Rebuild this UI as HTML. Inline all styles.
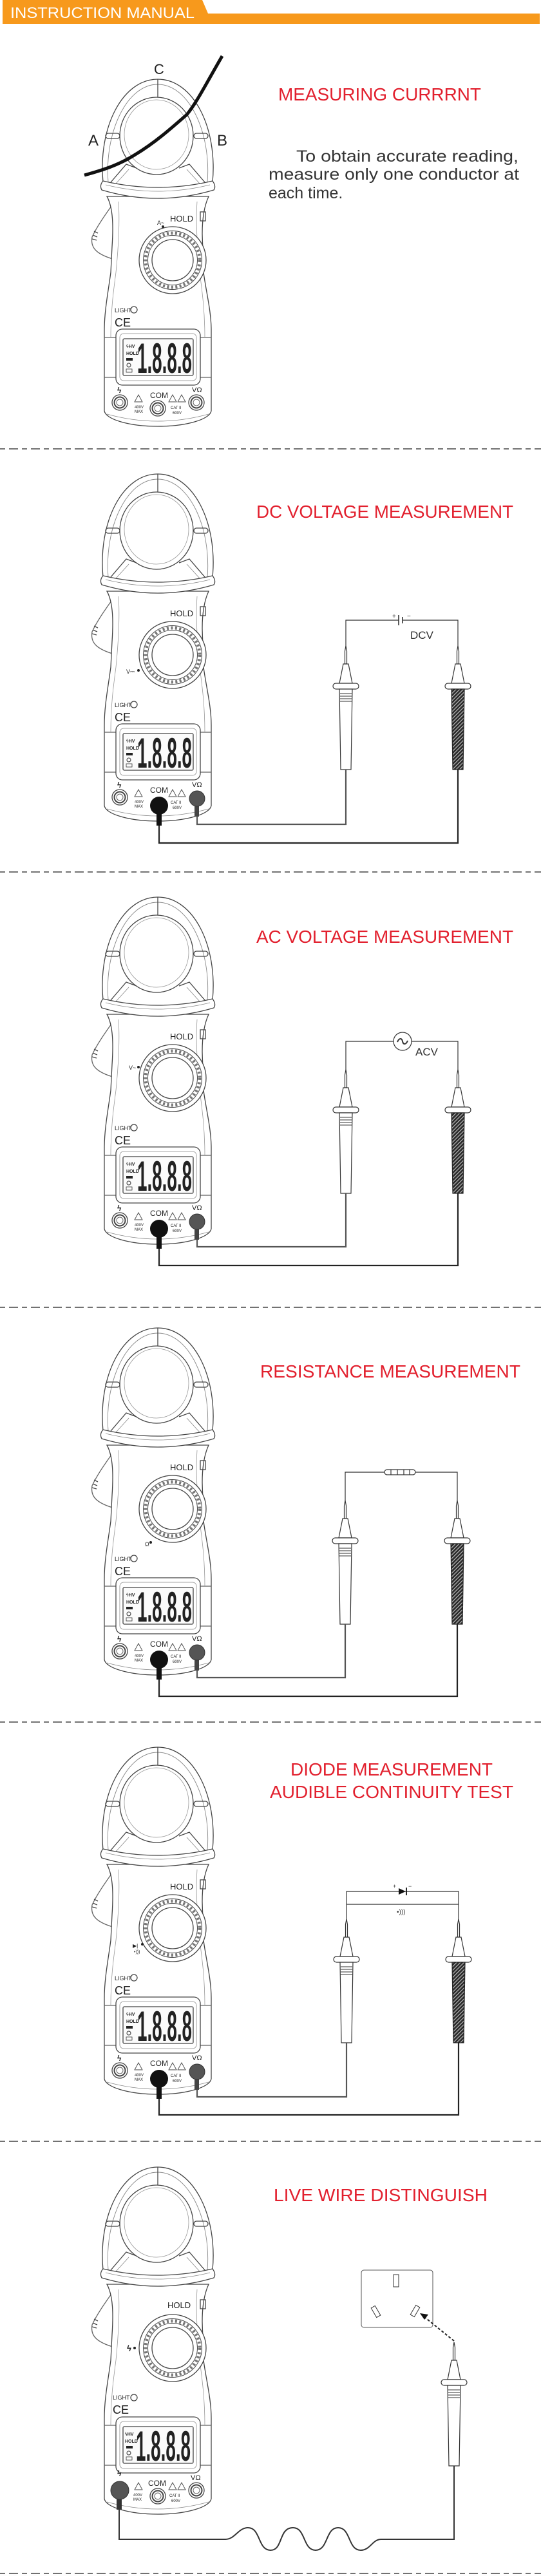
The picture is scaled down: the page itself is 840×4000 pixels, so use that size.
<!DOCTYPE html>
<html><head><meta charset="utf-8"><style>
html,body{margin:0;padding:0;background:#fff}
svg{display:block}
.t{font-family:"Liberation Sans",sans-serif}
.red{fill:#e2202e;font-family:"Liberation Sans",sans-serif}
</style></head><body>
<svg width="840" height="4000" viewBox="0 0 840 4000" xmlns="http://www.w3.org/2000/svg">
<defs>
<pattern id="hatch" width="4" height="4" patternUnits="userSpaceOnUse" patternTransform="rotate(-45)">
<rect width="4" height="4" fill="#2a2a2a"/><rect width="4" height="1.2" fill="#bbb"/>
</pattern>
<symbol id="meter" overflow="visible">
<g fill="none" stroke="#444" stroke-width="1.3">
<path d="M178,190 C160,215 150,230 143,245 C140,262 150,272 178,280" stroke="#666"/>
<path d="M146,236 l6,3 M144,242 l7,3 M143,248 l7,2" stroke="#444"/>
<path d="M160,160 C152,75 190,0 245,0 C300,0 338,75 330,160" fill="#fff"/>
<path d="M168,160 C162,82 197,8 245,8 C293,8 328,82 322,160" stroke="#888" stroke-width="0.9"/>
<ellipse cx="243" cy="88" rx="57" ry="60" fill="#fff"/>
<ellipse cx="243" cy="86" rx="50" ry="54" stroke="#999" stroke-width="0.8"/>
<path d="M245,0 L245,28"/>
<rect x="164" y="84" width="22" height="8" rx="4"/>
<rect x="301" y="84" width="22" height="8" rx="4"/>
<path d="M172,160 L196,132 L212,138 M318,160 L294,132 L278,138"/>
<path d="M180,162 L200,140 M310,162 L290,140" stroke="#888" stroke-width="0.8"/>
<path d="M166,182 C176,200 176,230 174,260 L172,300 C168,330 162,360 162,390 L162,515 C164,528 200,539 245,539 C290,539 326,528 328,515 L328,390 C328,360 320,330 316,300 L314,240 C314,215 318,195 324,182 Z" fill="#fff"/>
<path d="M184,190 C186,220 184,260 180,300 C176,330 172,360 172,400 M306,190 C304,220 306,260 310,300 C314,330 318,360 318,400" stroke="#999" stroke-width="0.8"/>
<path d="M160,158 Q245,178 330,158 Q336,166 332,172 Q245,198 158,172 Q154,165 160,158 Z" fill="#fff"/>
<path d="M164,164 Q245,184 326,164" stroke="#888" stroke-width="0.8"/>
<rect x="311" y="206" width="8" height="14"/>
<circle cx="268" cy="281" r="52" fill="#fff"/>
<circle cx="268" cy="281" r="45.5" stroke-width="1"/>
<circle cx="268" cy="281" r="42" stroke="#777" stroke-width="5" stroke-dasharray="3 3.5"/>
<circle cx="268" cy="281" r="38.5" stroke-width="1"/>
<circle cx="268" cy="281" r="32"/>
<circle cx="208" cy="358" r="5"/>
<rect x="162" y="401" width="166" height="62" stroke="#666"/>
<rect x="180" y="388" width="131" height="87" rx="10" fill="#fff"/>
<rect x="186" y="395" width="119" height="73" rx="6" stroke="#888" stroke-width="0.8"/>
<rect x="191" y="403" width="109" height="57" rx="2" fill="#fbfbfb"/>
<path d="M166,520 Q245,542 324,520" stroke="#888" stroke-width="0.8"/>
<path d="M215,490 L221,501 L209,501 Z M268,490 L274,501 L262,501 Z M282,490 L288,501 L276,501 Z" stroke-width="0.9"/>
</g>
<rect x="196" y="433" width="10" height="4" fill="#222"/>
<circle cx="200" cy="444" r="3" fill="none" stroke="#333" stroke-width="1"/>
<rect x="196" y="450" width="9" height="5" fill="none" stroke="#333" stroke-width="0.8"/>
</symbol>
<symbol id="jack" overflow="visible">
<circle r="12" fill="#fff" stroke="#444" stroke-width="1.3"/>
<circle r="8.5" fill="none" stroke="#444" stroke-width="2"/>
<circle r="5" fill="#fff" stroke="#666" stroke-width="1"/>
</symbol>
<symbol id="probe" overflow="visible">
<g stroke="#333" stroke-width="1.2">
<path d="M0,-58 L-1.5,-50 L-1.5,-30 L1.5,-30 L1.5,-50 Z" fill="#fff"/>
<path d="M-4,-30 L4,-30 L10,0 L-10,0 Z" fill="#fff"/>
<rect x="-20" y="0" width="40" height="9" rx="4.5" fill="#fff"/>
</g>
</symbol>
<symbol id="bodyL" overflow="visible">
<path d="M-10,9 L10,9 L8,134 L-8,134 Z" fill="#fff" stroke="#333" stroke-width="1.2"/>
<path d="M-9,16 H9 M-9,20 H9 M-9,24 H9 M-9,28 H9" stroke="#333" stroke-width="1"/>
</symbol>
<symbol id="bodyR" overflow="visible">
<path d="M-10,9 L10,9 L8,134 L-8,134 Z" fill="url(#hatch)" stroke="#222" stroke-width="1.2"/>
</symbol>
</defs>

<path d="M4,0 H314 L323,21 H838 V37 H4 Z" fill="#f7991c"/>
<text x="16" y="28" class="t" font-size="24" fill="#fff" textLength="286" lengthAdjust="spacingAndGlyphs">INSTRUCTION MANUAL</text>

<g stroke="#444" stroke-width="1.4" stroke-dasharray="8 6 14 6">
<line x1="0" y1="697" x2="840" y2="697"/>
<line x1="0" y1="1354" x2="840" y2="1354"/>
<line x1="0" y1="2030" x2="840" y2="2030"/>
<line x1="0" y1="2674" x2="840" y2="2674"/>
<line x1="0" y1="3325" x2="840" y2="3325"/>
<line x1="0" y1="3996" x2="840" y2="3996"/>
</g>

<!-- S1 -->
<use href="#meter" x="0" y="123"/>
<g transform="translate(0,123)">
<use href="#jack" x="186" y="502"/><use href="#jack" x="245" y="511"/><use href="#jack" x="305" y="502"/>
</g>
<path d="M131,272 C160,264 185,256 210,240 C240,222 265,200 290,178 C305,160 320,130 345,87" fill="none" stroke="#111" stroke-width="5"/>
<text x="137" y="226" class="t" font-size="24" fill="#222">A</text>
<text x="337" y="226" class="t" font-size="24" fill="#222">B</text>
<text x="239" y="115" class="t" font-size="22" fill="#222">C</text>
<text x="432" y="156" class="red" font-size="28" textLength="315" lengthAdjust="spacingAndGlyphs">MEASURING CURRRNT</text>
<g class="t" fill="#333" font-size="25">
<text x="460" y="251" textLength="345" lengthAdjust="spacingAndGlyphs">To obtain accurate reading,</text>
<text x="417" y="279" textLength="389" lengthAdjust="spacingAndGlyphs">measure only one conductor at</text>
<text x="417" y="308">each time.</text>
</g>

<!-- S2 -->
<use href="#meter" x="0" y="736"/>
<g transform="translate(0,736)"><use href="#jack" x="186" y="502"/></g>
<text x="398" y="804" class="red" font-size="28" textLength="399" lengthAdjust="spacingAndGlyphs">DC VOLTAGE MEASUREMENT</text>
<g fill="none" stroke="#333" stroke-width="1.2">
<path d="M537,1004 V963 H619 M625,963 H711 V1004"/>
<path d="M619,955 V971 M625,958 V968" stroke-width="1.6"/>
</g>
<text x="609" y="960" class="t" font-size="10" fill="#333">+</text>
<text x="632" y="960" class="t" font-size="10" fill="#333">−</text>
<text x="637" y="992" class="t" font-size="17" fill="#333">DCV</text>
<use href="#probe" x="537" y="1061"/><use href="#bodyL" x="537" y="1061"/>
<use href="#probe" x="711" y="1061"/><use href="#bodyR" x="711" y="1061"/>
<g fill="none" stroke-width="2.2">
<path d="M537,1195 V1280 H306 V1250" stroke="#555"/>
<path d="M711,1195 V1309 H247 V1260" stroke="#222"/>
</g>
<rect x="302" y="1240" width="7" height="28" fill="#444"/><circle cx="306" cy="1240" r="12" fill="#555" stroke="#333"/>
<rect x="243" y="1251" width="8" height="31" fill="#111"/><circle cx="247" cy="1251" r="14" fill="#111"/>

<!-- S3 -->
<use href="#meter" x="0" y="1393"/>
<g transform="translate(0,1393)"><use href="#jack" x="186" y="502"/></g>
<text x="398" y="1464" class="red" font-size="28" textLength="399" lengthAdjust="spacingAndGlyphs">AC VOLTAGE MEASUREMENT</text>
<g fill="none" stroke="#333" stroke-width="1.2">
<path d="M537,1662 V1617 H611 M639,1617 H711 V1662"/>
<circle cx="625" cy="1617" r="14"/>
<path d="M617,1618 C620,1611 624,1612 625,1617 C626,1622 630,1623 633,1616" stroke-width="2"/>
</g>
<text x="645" y="1639" class="t" font-size="17" fill="#333">ACV</text>
<use href="#probe" x="537" y="1719"/><use href="#bodyL" x="537" y="1719"/>
<use href="#probe" x="711" y="1719"/><use href="#bodyR" x="711" y="1719"/>
<g fill="none" stroke-width="2.2">
<path d="M537,1853 V1936 H306 V1906" stroke="#555"/>
<path d="M711,1853 V1965 H247 V1916" stroke="#222"/>
</g>
<rect x="302" y="1897" width="7" height="28" fill="#444"/><circle cx="306" cy="1897" r="12" fill="#555" stroke="#333"/>
<rect x="243" y="1908" width="8" height="31" fill="#111"/><circle cx="247" cy="1908" r="14" fill="#111"/>

<!-- S4 -->
<use href="#meter" x="0" y="2062"/>
<g transform="translate(0,2062)"><use href="#jack" x="186" y="502"/></g>
<text x="404" y="2139" class="red" font-size="28" textLength="404" lengthAdjust="spacingAndGlyphs">RESISTANCE MEASUREMENT</text>
<g fill="none" stroke="#333" stroke-width="1.2">
<path d="M536,2331 V2286 H597 M645,2286 H710 V2331"/>
<rect x="597" y="2282" width="48" height="8" rx="4" fill="#fff"/>
<path d="M607,2282 V2290 M617,2282 V2290 M627,2282 V2290 M636,2282 V2290"/>
</g>
<use href="#probe" x="536" y="2388"/><use href="#bodyL" x="536" y="2388"/>
<use href="#probe" x="710" y="2388"/><use href="#bodyR" x="710" y="2388"/>
<g fill="none" stroke-width="2.2">
<path d="M536,2522 V2605 H306 V2575" stroke="#555"/>
<path d="M710,2522 V2634 H247 V2585" stroke="#222"/>
</g>
<rect x="302" y="2566" width="7" height="28" fill="#444"/><circle cx="306" cy="2566" r="12" fill="#555" stroke="#333"/>
<rect x="243" y="2577" width="8" height="31" fill="#111"/><circle cx="247" cy="2577" r="14" fill="#111"/>

<!-- S5 -->
<use href="#meter" x="0" y="2713"/>
<g transform="translate(0,2713)"><use href="#jack" x="186" y="502"/></g>
<text x="451" y="2757" class="red" font-size="28" textLength="314" lengthAdjust="spacingAndGlyphs">DIODE MEASUREMENT</text>
<text x="419" y="2792" class="red" font-size="28" textLength="378" lengthAdjust="spacingAndGlyphs">AUDIBLE CONTINUITY TEST</text>
<g fill="none" stroke="#333" stroke-width="1.2">
<path d="M538,2981 V2937 H712 V2981 M538,2957 H712"/>
</g>
<path d="M619,2932 L630,2937 L619,2942 Z" fill="#111"/>
<path d="M631,2931 V2943" stroke="#111" stroke-width="1.8"/>
<text x="610" y="2932" class="t" font-size="9" fill="#333">+</text>
<text x="634" y="2932" class="t" font-size="9" fill="#333">−</text>
<text x="616" y="2972" class="t" font-size="10" fill="#333">•)))</text>
<use href="#probe" x="538" y="3038"/><use href="#bodyL" x="538" y="3038"/>
<use href="#probe" x="712" y="3038"/><use href="#bodyR" x="712" y="3038"/>
<g fill="none" stroke-width="2.2">
<path d="M538,3172 V3256 H306 V3226" stroke="#555"/>
<path d="M712,3172 V3284 H247 V3236" stroke="#222"/>
</g>
<rect x="302" y="3217" width="7" height="28" fill="#444"/><circle cx="306" cy="3217" r="12" fill="#555" stroke="#333"/>
<rect x="243" y="3228" width="8" height="31" fill="#111"/><circle cx="247" cy="3228" r="14" fill="#111"/>

<!-- S6 -->
<use href="#meter" x="0" y="3365"/>
<g transform="translate(0,3365)"><use href="#jack" x="245" y="511"/><use href="#jack" x="305" y="502"/></g>
<text x="425" y="3418" class="red" font-size="28" textLength="332" lengthAdjust="spacingAndGlyphs">LIVE WIRE DISTINGUISH</text>
<rect x="561" y="3525" width="111" height="89" rx="4" fill="#fff" stroke="#555" stroke-width="1"/>
<rect x="611" y="3532" width="8" height="19" fill="#fff" stroke="#333" stroke-width="1"/>
<rect x="580" y="3581" width="7" height="17" fill="#fff" stroke="#333" stroke-width="1" transform="rotate(-30 583.5 3589.5)"/>
<rect x="641" y="3580" width="7" height="17" fill="#fff" stroke="#333" stroke-width="1" transform="rotate(30 644.5 3588.5)"/>
<path d="M705,3635 L658,3597" stroke="#222" stroke-width="2" stroke-dasharray="4 3" fill="none"/>
<path d="M652,3592 L665,3594 L659,3602 Z" fill="#111"/>
<use href="#probe" x="705" y="3695"/><use href="#bodyL" x="705" y="3695"/>
<path d="M705,3829 V3943 H592 C578,3943 575,3960 560,3960 C540,3960 545,3925 525,3925 C505,3925 510,3960 490,3960 C470,3960 475,3925 455,3925 C432,3925 440,3960 420,3960 C400,3960 405,3925 385,3925 C370,3925 365,3943 350,3943 H185 V3880" fill="none" stroke="#333" stroke-width="2"/>
<rect x="181" y="3867" width="8" height="30" fill="#333"/><circle cx="186" cy="3867" r="14" fill="#555" stroke="#333"/>

<!-- meter texts -->
<g class="t" fill="#222" transform="translate(0,123)">
<text x="264" y="221" font-size="13">HOLD</text>
<text x="244" y="226" font-size="9">A~</text><circle cx="253" cy="229" r="2" fill="#222"/>
<text x="178" y="362" font-size="9">LIGHT</text>
<text x="178" y="384" font-size="18">CE</text>
<text x="196" y="417" font-size="7" font-weight="bold">ϟHV</text>
<text x="196" y="428" font-size="7" font-weight="bold">HOLD</text>
<text x="213" y="456" font-size="66" font-weight="bold" font-family="Liberation Sans Narrow,Liberation Sans,sans-serif" textLength="85" lengthAdjust="spacingAndGlyphs">1.8.8.8</text>
<text x="182" y="487" font-size="12" font-weight="bold">ϟ</text>
<text x="209" y="511" font-size="6">400V</text><text x="209" y="518" font-size="6">MAX</text>
<text x="233" y="495" font-size="12">COM</text>
<text x="265" y="512" font-size="6">CAT II</text><text x="268" y="520" font-size="6">600V</text>
<text x="298" y="486" font-size="11">VΩ</text>
</g>
<g class="t" fill="#222" transform="translate(0,736)">
<text x="264" y="221" font-size="13">HOLD</text>
<text x="196" y="310" font-size="9">V⎓</text><circle cx="215" cy="305" r="2" fill="#222"/>
<text x="178" y="362" font-size="9">LIGHT</text>
<text x="178" y="384" font-size="18">CE</text>
<text x="196" y="417" font-size="7" font-weight="bold">ϟHV</text>
<text x="196" y="428" font-size="7" font-weight="bold">HOLD</text>
<text x="213" y="456" font-size="66" font-weight="bold" font-family="Liberation Sans Narrow,Liberation Sans,sans-serif" textLength="85" lengthAdjust="spacingAndGlyphs">1.8.8.8</text>
<text x="182" y="487" font-size="12" font-weight="bold">ϟ</text>
<text x="209" y="511" font-size="6">400V</text><text x="209" y="518" font-size="6">MAX</text>
<text x="233" y="495" font-size="12">COM</text>
<text x="265" y="512" font-size="6">CAT II</text><text x="268" y="520" font-size="6">600V</text>
<text x="298" y="486" font-size="11">VΩ</text>
</g>
<g class="t" fill="#222" transform="translate(0,1393)">
<text x="264" y="221" font-size="13">HOLD</text>
<text x="200" y="268" font-size="9">V~</text><circle cx="215" cy="264" r="2" fill="#222"/>
<text x="178" y="362" font-size="9">LIGHT</text>
<text x="178" y="384" font-size="18">CE</text>
<text x="196" y="417" font-size="7" font-weight="bold">ϟHV</text>
<text x="196" y="428" font-size="7" font-weight="bold">HOLD</text>
<text x="213" y="456" font-size="66" font-weight="bold" font-family="Liberation Sans Narrow,Liberation Sans,sans-serif" textLength="85" lengthAdjust="spacingAndGlyphs">1.8.8.8</text>
<text x="182" y="487" font-size="12" font-weight="bold">ϟ</text>
<text x="209" y="511" font-size="6">400V</text><text x="209" y="518" font-size="6">MAX</text>
<text x="233" y="495" font-size="12">COM</text>
<text x="265" y="512" font-size="6">CAT II</text><text x="268" y="520" font-size="6">600V</text>
<text x="298" y="486" font-size="11">VΩ</text>
</g>
<g class="t" fill="#222" transform="translate(0,2062)">
<text x="264" y="221" font-size="13">HOLD</text>
<text x="225" y="339" font-size="9">Ω</text><circle cx="234" cy="333" r="2" fill="#222"/>
<text x="178" y="362" font-size="9">LIGHT</text>
<text x="178" y="384" font-size="18">CE</text>
<text x="196" y="417" font-size="7" font-weight="bold">ϟHV</text>
<text x="196" y="428" font-size="7" font-weight="bold">HOLD</text>
<text x="213" y="456" font-size="66" font-weight="bold" font-family="Liberation Sans Narrow,Liberation Sans,sans-serif" textLength="85" lengthAdjust="spacingAndGlyphs">1.8.8.8</text>
<text x="182" y="487" font-size="12" font-weight="bold">ϟ</text>
<text x="209" y="511" font-size="6">400V</text><text x="209" y="518" font-size="6">MAX</text>
<text x="233" y="495" font-size="12">COM</text>
<text x="265" y="512" font-size="6">CAT II</text><text x="268" y="520" font-size="6">600V</text>
<text x="298" y="486" font-size="11">VΩ</text>
</g>
<g class="t" fill="#222" transform="translate(0,2713)">
<text x="264" y="221" font-size="13">HOLD</text>
<text x="206" y="311" font-size="8">▶|</text><text x="208" y="320" font-size="7">•)))</text><circle cx="221" cy="306" r="2" fill="#222"/>
<text x="178" y="362" font-size="9">LIGHT</text>
<text x="178" y="384" font-size="18">CE</text>
<text x="196" y="417" font-size="7" font-weight="bold">ϟHV</text>
<text x="196" y="428" font-size="7" font-weight="bold">HOLD</text>
<text x="213" y="456" font-size="66" font-weight="bold" font-family="Liberation Sans Narrow,Liberation Sans,sans-serif" textLength="85" lengthAdjust="spacingAndGlyphs">1.8.8.8</text>
<text x="182" y="487" font-size="12" font-weight="bold">ϟ</text>
<text x="209" y="511" font-size="6">400V</text><text x="209" y="518" font-size="6">MAX</text>
<text x="233" y="495" font-size="12">COM</text>
<text x="265" y="512" font-size="6">CAT II</text><text x="268" y="520" font-size="6">600V</text>
<text x="298" y="486" font-size="11">VΩ</text>
</g>
<g class="t" fill="#222" transform="translate(0,3365)">
<text x="260" y="219" font-size="13">HOLD</text>
<text x="197" y="286" font-size="13" font-weight="bold">ϟ</text><circle cx="209" cy="281" r="2" fill="#222"/>
<text x="175" y="361" font-size="9">LIGHT</text>
<text x="175" y="383" font-size="18">CE</text>
<text x="194" y="417" font-size="7" font-weight="bold">ϟHV</text>
<text x="194" y="428" font-size="7" font-weight="bold">HOLD</text>
<text x="211" y="456" font-size="66" font-weight="bold" font-family="Liberation Sans Narrow,Liberation Sans,sans-serif" textLength="85" lengthAdjust="spacingAndGlyphs">1.8.8.8</text>
<text x="182" y="480" font-size="12" font-weight="bold">ϟ</text>
<text x="207" y="511" font-size="6">400V</text><text x="207" y="518" font-size="6">MAX</text>
<text x="230" y="495" font-size="12">COM</text>
<text x="263" y="512" font-size="6">CAT II</text><text x="266" y="520" font-size="6">600V</text>
<text x="296" y="486" font-size="11">VΩ</text>
</g>
</svg>
</body></html>
